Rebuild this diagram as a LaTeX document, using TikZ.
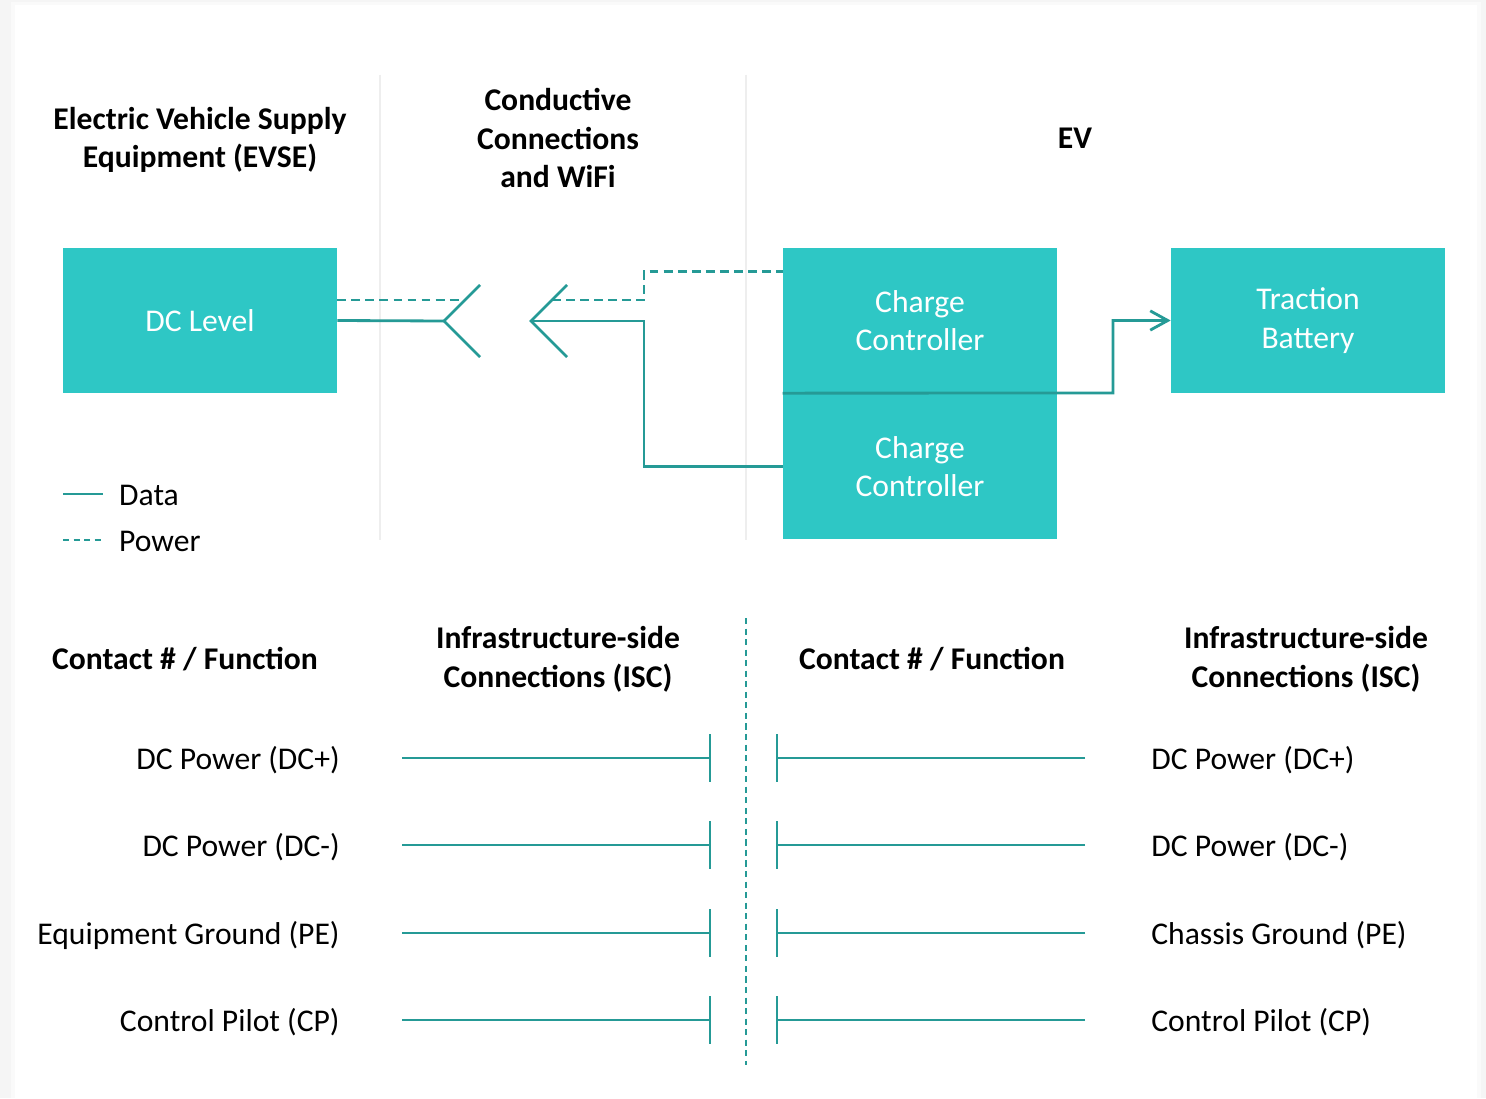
\documentclass[tikz,border=0pt]{standalone}
\usepackage{fontspec}
\setmainfont{Carlito}
\usetikzlibrary{arrows.meta}
\definecolor{boxfill}{HTML}{2EC7C5}
\definecolor{wire}{HTML}{259A96}
\definecolor{sepgray}{HTML}{EEEEEE}
\begin{document}
\begin{tikzpicture}[x=0.02cm, y=-0.02cm, font=\fontsize{18}{22}\selectfont,
    blk/.style={fill=boxfill, text=white, minimum width=5.48cm, minimum height=2.92cm, align=center, inner sep=0pt},
    wr/.style={wire, line width=1.6pt},
    pw/.style={wr, dash pattern=on 5pt off 3pt},
    hd/.style={font=\fontsize{18}{22}\selectfont\bfseries, align=center}]
    \useasboundingbox (0,0) rectangle (1486,1098);
    \fill[black!4] (0,0) rectangle (1486,1098);
    \fill[black!2] (11,2) rectangle (1481,1098);
    \fill[white] (15,5) rectangle (1477,1098);

    \draw[sepgray, line width=1pt] (380,75) -- (380,540);
    \draw[sepgray, line width=1pt] (746,75) -- (746,540);

    \node[hd] (h1) at (200,140) {Electric Vehicle Supply\\Equipment (EVSE)};
    \node[hd] (h2) at (558,138) {Conductive\\Connections\\and WiFi};
    \node[hd] (h3) at (1075,138) {EV};

    \node[blk] (dcl) at (200,320.5) {DC Level};
    \node[blk] (cc1) at (920,320.5) {Charge\\Controller};
    \node[blk] (cc2) at (920,466.5) {Charge\\Controller};
    \node[blk] (bat) at (1308,320.5) {Traction\\Battery};

    \coordinate (t1) at (444,321);
    \coordinate (t2) at (531,321);
    \coordinate (p1) at (465,300);
    \coordinate (p2) at (552,300);
    \draw[wr] (480,285) -- (t1) -- (480,357);
    \draw[wr] (567,285) -- (t2) -- (567,357);
    \draw[wr] (dcl.east) -- (t1);
    \draw[pw] (dcl.east |- p1) -- (p1);
    \draw[wr] (t2) -- (644,321) |- (cc2.west);
    \draw[pw] (p2) -- (644,300) |- ([yshift=-0.48cm]cc1.north west);
    \draw[wr, -{Straight Barb[length=10pt, width=11pt]}] (cc2.north west) -- (1113,393) |- (bat.west);

    \node[anchor=west] (ld) at (113,495) {Data};
    \node[anchor=west] (lp) at (113,541) {Power};
    \draw[wr] (63,494) -- (103,494);
    \draw[wr, dash pattern=on 3.5pt off 2.5pt] (63,540) -- (103,540);

    \node[hd] (cf1) at (185,659) {Contact \# / Function};
    \node[hd] (isc1) at (558,659) {Infrastructure-side\\Connections (ISC)};
    \node[hd] (cf2) at (932,659) {Contact \# / Function};
    \node[hd] (isc2) at (1306,659) {Infrastructure-side\\Connections (ISC)};

    \draw[wire, line width=1.2pt, dash pattern=on 3.5pt off 2.5pt] (746,618) -- (746,1065);

\foreach \y/\a/\b [count=\i] in {758/DC Power (DC+)/DC Power (DC+), 845/DC Power (DC-)/DC Power (DC-), 933/Equipment Ground (PE)/Chassis Ground (PE), 1020/Control Pilot (CP)/Control Pilot (CP)}
{
    \node[anchor=east, inner sep=0pt] (l\i) at (340,\y+2) {\a};
    \node[anchor=west, inner sep=0pt] (r\i) at (1151,\y+2) {\b};
    \draw[wr] (402,\y) -- (710,\y) (710,\y-24) -- (710,\y+24);
    \draw[wr] (1085,\y) -- (777,\y) (777,\y-24) -- (777,\y+24);
}

\end{tikzpicture}
\end{document}
